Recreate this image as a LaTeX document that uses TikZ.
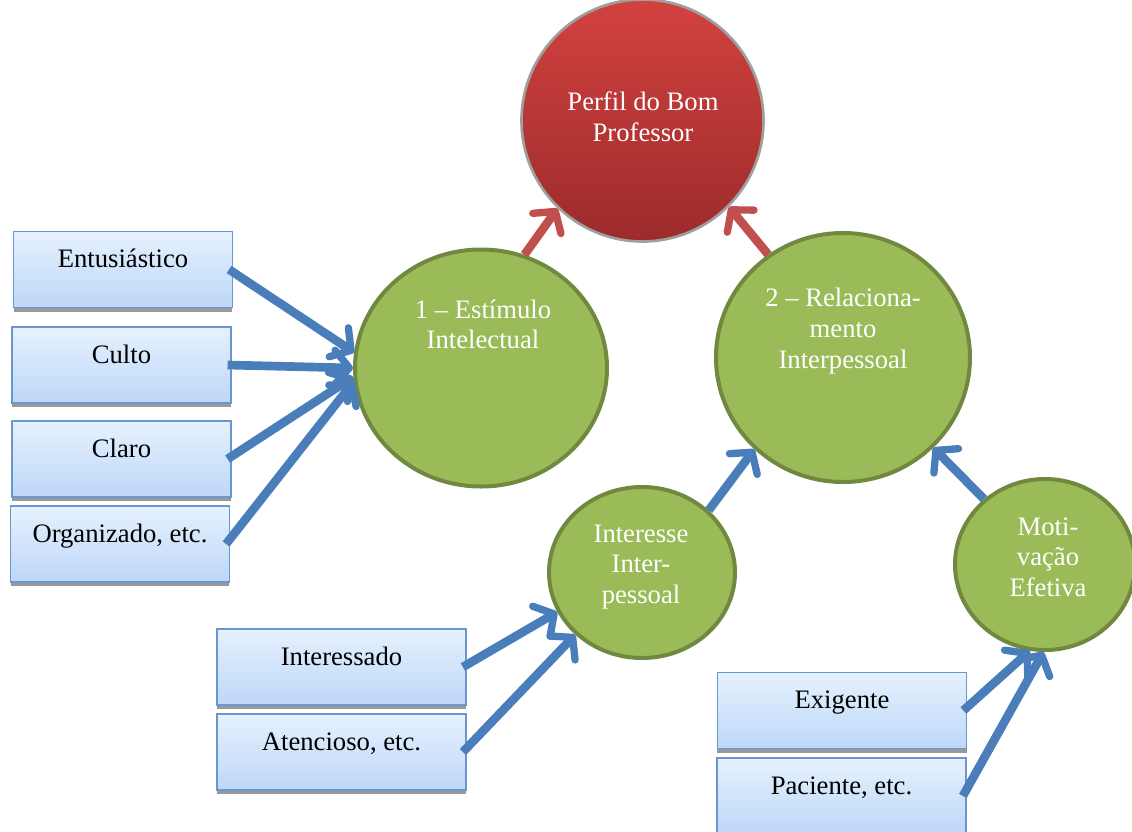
\documentclass[tikz,border=0pt]{standalone}
\usepackage{fontspec}
\setmainfont{Liberation Serif}
\usetikzlibrary{shapes.geometric,arrows.meta,shadows}
\definecolor{boxtop}{HTML}{E6F1FE}
\definecolor{boxbot}{HTML}{BDD7F8}
\definecolor{boxline}{HTML}{6A96D0}
\definecolor{gfill}{HTML}{9BBB59}
\definecolor{gline}{HTML}{71893F}
\definecolor{ablue}{HTML}{4A7EBB}
\definecolor{ared}{HTML}{C0504D}
\definecolor{rtop}{HTML}{D2423F}
\definecolor{rbot}{HTML}{9C2B2B}
\tikzset{
  box/.style={rectangle, minimum height=57pt, inner xsep=0pt, inner ysep=0pt,
    text height=27pt, text depth=30pt, top color=boxtop, bottom color=boxbot,
    draw=boxline, line width=1.1pt,
    general shadow={fill=gray!80, shadow yshift=-3pt, shadow xshift=0pt},
    font=\fontsize{20pt}{23pt}\selectfont},
  narrowbox/.style={box, minimum width=164pt},
  widebox/.style={box, minimum width=187pt},
  gcircle/.style={ellipse, draw=gline, fill=gfill, line width=3pt, inner sep=0pt},
  ctext/.style={text=white, align=center, font=\fontsize{20pt}{23pt}\selectfont},
  barrow/.style={draw=ablue, line width=6.5pt,
    -{Straight Barb[length=11pt,width=26pt,line width=5.5pt,round]}},
  rarrow/.style={draw=ared, line width=6.5pt,
    -{Straight Barb[length=11pt,width=26pt,line width=5.5pt,round]}}
}
\begin{document}
\begin{tikzpicture}[x=0.75pt,y=-0.75pt]
\useasboundingbox (0,0) rectangle (1132,832);
% central red circle
\node[ellipse, minimum width=181.5pt, minimum height=181.5pt, inner sep=0pt,
  top color=rtop, bottom color=rbot, draw=gray!75, line width=2pt] (top) at (642.5,120.5) {};
\node[ctext] (ttop) at (643,116.5) {Perfil do Bom\\Professor};
% green circles
\node[gcircle, minimum width=189pt, minimum height=177.75pt] (c1) at (481,368) {};
\node[ctext] (t1) at (483,324.5) {1 – Estímulo\\Intelectual};
\node[gcircle, minimum width=190.5pt, minimum height=186.75pt] (c2) at (843,357.5) {};
\node[ctext] (t2) at (843,331) {2 – Relaciona-\\mento\\Interpessoal};
\node[gcircle, minimum width=139.5pt, minimum height=128.25pt] (c3) at (642,572.5) {};
\node[ctext] (t3) at (641,567) {Interesse\\Inter-\\pessoal};
\node[gcircle, minimum width=135pt, minimum height=128.25pt] (c4) at (1045,564.5) {};
\node[ctext] (t4) at (1048,557) {Moti-\\vação\\Efetiva};
% boxes
\node[narrowbox] (b1) at (123,269.5) {Entusiástico};
\node[narrowbox] (b2) at (121.5,365) {Culto};
\node[narrowbox] (b3) at (121.5,459) {Claro};
\node[narrowbox] (b4) at (120,544) {Organizado, etc.};
\node[widebox] (b5) at (341.5,667) {Interessado};
\node[widebox] (b6) at (341.5,752) {Atencioso, etc.};
\node[widebox] (b7) at (842,710.5) {Exigente};
\node[widebox] (b8) at (841.5,796) {Paciente, etc.};
% blue arrows
\draw[barrow] ([xshift=-3pt]b1.east) -- (c1.173);
\draw[barrow] ([xshift=-3pt]b2.east) -- (c1.180);
\draw[barrow] ([xshift=-3pt]b3.east) -- (c1.184);
\draw[barrow] ([xshift=-3pt]b4.east) -- (c1.186);
\draw[barrow] ([xshift=-3pt]b5.east) -- (c3.205);
\draw[barrow] ([xshift=-3pt]b6.east) -- (c3.223);
\draw[barrow] ([xshift=-3pt]b7.east) -- (c4.260);
\draw[barrow] ([xshift=-3pt]b8.east) -- (c4.269);
\draw[barrow] (c3.43) -- (c2.226);
\draw[barrow] (c4.133) -- (c2.315);
% red arrows
\draw[rarrow] (c1.69) -- (top.226);
\draw[rarrow] (c2.126) -- (top.315);
\end{tikzpicture}
\end{document}
